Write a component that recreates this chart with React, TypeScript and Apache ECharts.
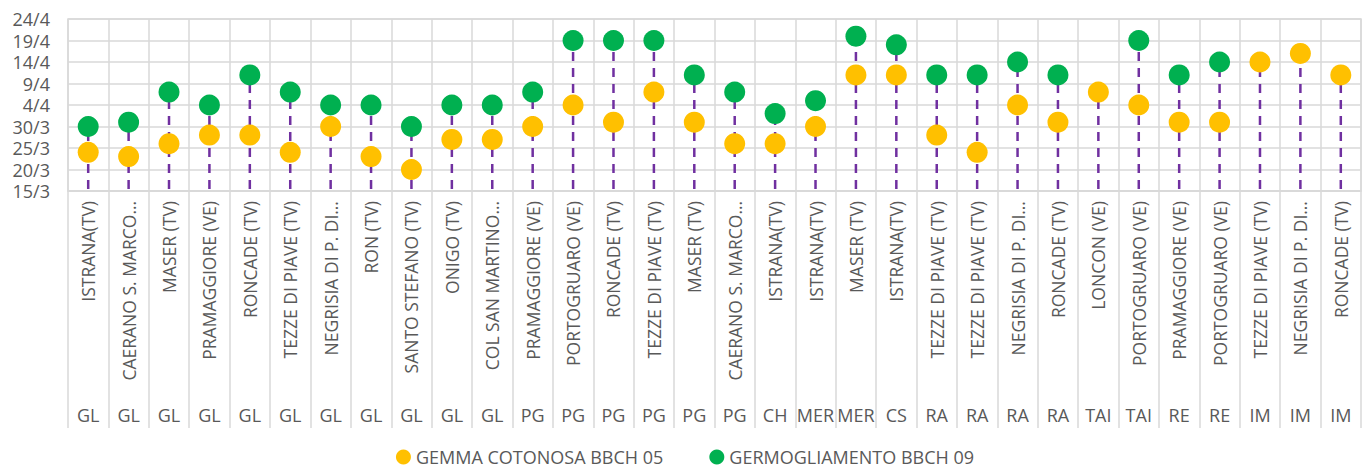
import React, { useEffect, useRef } from "react";
import * as echarts from "echarts";

const locations: string[] = [
  "ISTRANA(TV)", "CAERANO S. MARCO…", "MASER (TV)", "PRAMAGGIORE (VE)", "RONCADE (TV)",
  "TEZZE DI PIAVE (TV)", "NEGRISIA DI P. DI…", "RON (TV)", "SANTO STEFANO (TV)", "ONIGO (TV)",
  "COL SAN MARTINO…", "PRAMAGGIORE (VE)", "PORTOGRUARO (VE)", "RONCADE (TV)", "TEZZE DI PIAVE (TV)",
  "MASER (TV)", "CAERANO S. MARCO…", "ISTRANA(TV)", "ISTRANA(TV)", "MASER (TV)", "ISTRANA(TV)",
  "TEZZE DI PIAVE (TV)", "TEZZE DI PIAVE (TV)", "NEGRISIA DI P. DI…", "RONCADE (TV)", "LONCON (VE)",
  "PORTOGRUARO (VE)", "PRAMAGGIORE (VE)", "PORTOGRUARO (VE)", "TEZZE DI PIAVE (TV)", "NEGRISIA DI P. DI…",
  "RONCADE (TV)",
];

const groups: string[] = [
  "GL", "GL", "GL", "GL", "GL", "GL", "GL", "GL", "GL", "GL", "GL",
  "PG", "PG", "PG", "PG", "PG", "PG", "CH", "MER", "MER", "CS",
  "RA", "RA", "RA", "RA", "TAI", "TAI", "RE", "RE", "IM", "IM", "IM",
];

const gemmaCotonosa: string[] = [
  "24/3", "23/3", "26/3", "28/3", "28/3", "24/3", "30/3", "23/3", "20/3", "27/3", "27/3",
  "30/3", "4/4", "31/3", "7/4", "31/3", "26/3", "26/3", "30/3", "11/4", "11/4",
  "28/3", "24/3", "4/4", "31/3", "7/4", "4/4", "31/3", "31/3", "14/4", "16/4", "11/4",
];

const germogliamento: (string | null)[] = [
  "30/3", "31/3", "7/4", "4/4", "11/4", "7/4", "4/4", "4/4", "30/3", "4/4", "4/4",
  "7/4", "19/4", "19/4", "19/4", "11/4", "7/4", "2/4", "5/4", "20/4", "18/4",
  "11/4", "11/4", "14/4", "11/4", null, "19/4", "11/4", "14/4", null, null, null,
];

const seriesNames = ["GEMMA COTONOSA BBCH 05", "GERMOGLIAMENTO BBCH 09"];

// days counted from 15/3
const toOffset = (s: string | null): number | null => {
  if (!s) return null;
  const [d, m] = s.split("/").map(Number);
  return m === 3 ? d - 15 : d + 16;
};
const fromOffset = (v: number): string => (v <= 16 ? `${v + 15}/3` : `${v - 16}/4`);

const FONT = "'Open Sans', 'Noto Sans', sans-serif";
const TXT = "#595959";
const GRID = "#D9D9D9";

export default function App() {
  const ref = useRef<HTMLDivElement>(null);
  useEffect(() => {
    document.body.style.margin = "0";
    if (!ref.current) return;
    const chart = echarts.init(ref.current, undefined, { renderer: "svg" });
    const yellow = gemmaCotonosa.map((s, i) => [i, toOffset(s)]);
    const green = germogliamento.map((s, i) => [i, toOffset(s)]);
    const stems = gemmaCotonosa.map((s, i) => {
      const a = toOffset(s) ?? 0;
      const b = toOffset(germogliamento[i]) ?? -1;
      return [i, Math.max(a, b)];
    });
    chart.setOption({
      animation: false,
      textStyle: { fontFamily: FONT },
      grid: {
        left: 68, right: 9, top: 19, bottom: 277,
        show: true, borderColor: GRID, borderWidth: 1.5,
      },
      legend: {
        data: seriesNames,
        top: 448,
        left: "center",
        icon: "circle",
        itemWidth: 15,
        itemHeight: 15,
        itemGap: 46,
        padding: 0,
        textStyle: { color: TXT, fontSize: 18, lineHeight: 18, fontFamily: FONT },
      },
      xAxis: [
        {
          type: "category",
          data: locations,
          boundaryGap: true,
          axisLine: { show: true, lineStyle: { color: GRID, width: 1.5 } },
          axisTick: { show: true, length: 237, lineStyle: { color: GRID, width: 1.5 } },
          splitLine: { show: true, lineStyle: { color: GRID, width: 1.5 } },
          axisLabel: {
            rotate: 90, interval: 0, margin: 10,
            color: TXT, fontSize: 17.5, fontFamily: FONT,
          },
        },
        {
          type: "category",
          data: groups,
          position: "bottom",
          boundaryGap: true,
          axisLine: { show: false },
          axisTick: { show: false },
          splitLine: { show: false },
          axisLabel: {
            interval: 0, margin: 215,
            color: TXT, fontSize: 18, fontFamily: FONT,
          },
        },
      ],
      yAxis: {
        type: "value",
        min: 0, max: 40, interval: 5,
        axisLine: { show: false },
        axisTick: { show: false },
        splitLine: { show: true, lineStyle: { color: GRID, width: 1.5 } },
        axisLabel: {
          color: TXT, fontSize: 18, lineHeight: 20, fontFamily: FONT, margin: 18,
          formatter: (v: number) => fromOffset(v),
        },
      },
      series: [
        {
          type: "custom",
          name: "stems",
          xAxisIndex: 0,
          data: stems,
          encode: { x: 0, y: 1 },
          z: 1,
          renderItem: (params: any, api: any) => {
            const x = api.value(0);
            const top = api.value(1);
            const p0 = api.coord([x, 0]);
            const p1 = api.coord([x, top]);
            return {
              type: "line",
              shape: { x1: p0[0], y1: p0[1] - 2, x2: p1[0], y2: p1[1] },
              style: { stroke: "#7030A0", lineWidth: 2.5, lineDash: [9, 7] },
            };
          },
        },
        {
          type: "scatter",
          name: seriesNames[0],
          data: yellow,
          symbol: "circle",
          symbolSize: 21,
          itemStyle: { color: "#FFC000", opacity: 1 },
          z: 3,
        },
        {
          type: "scatter",
          name: seriesNames[1],
          data: green,
          symbol: "circle",
          symbolSize: 21,
          itemStyle: { color: "#00B050", opacity: 1 },
          z: 4,
        },
      ],
    });
    return () => chart.dispose();
  }, []);
  return <div ref={ref} style={{ width: 1370, height: 468 }} />;
}
